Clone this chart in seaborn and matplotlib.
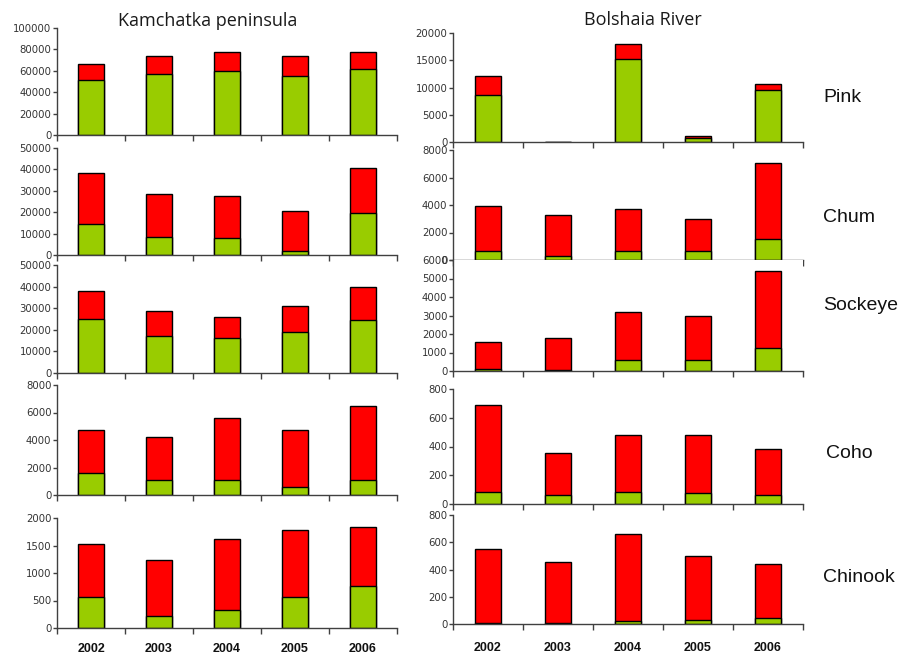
import matplotlib
matplotlib.use('Agg')
import matplotlib.pyplot as plt
import pandas as pd
import seaborn as sns

years = ['2002', '2003', '2004', '2005', '2006']
species = ['Pink', 'Chum', 'Sockeye', 'Coho', 'Chinook']

# Kamchatka peninsula: bar total (red top) and green lower part
kam_pink_total = [66000, 74000, 77500, 74000, 77500]
kam_pink_green = [51000, 57000, 60000, 55500, 62000]
kam_chum_total = [38500, 28500, 27500, 20500, 40500]
kam_chum_green = [14500, 8500, 8000, 2000, 19500]
kam_sockeye_total = [38000, 28500, 26000, 31000, 40000]
kam_sockeye_green = [25000, 17000, 16000, 19000, 24500]
kam_coho_total = [4700, 4250, 5600, 4700, 6500]
kam_coho_green = [1600, 1100, 1100, 600, 1100]
kam_chinook_total = [1520, 1240, 1610, 1780, 1830]
kam_chinook_green = [560, 210, 330, 560, 760]

# Bolshaia River
bol_pink_total = [12200, 0, 18000, 1050, 10600]
bol_pink_green = [8700, 0, 15200, 650, 9600]
bol_chum_total = [3900, 3270, 3700, 3000, 7050]
bol_chum_green = [620, 320, 620, 620, 1500]
bol_sockeye_total = [1580, 1760, 3200, 3000, 5420]
bol_sockeye_green = [130, 55, 580, 580, 1240]
bol_coho_total = [690, 355, 480, 480, 380]
bol_coho_green = [84, 65, 84, 75, 65]
bol_chinook_total = [548, 453, 662, 497, 439]
bol_chinook_green = [7, 5, 19, 27, 44]

kam_limits = [(100000, 20000), (50000, 10000), (50000, 10000), (8000, 2000), (2000, 500)]
bol_limits = [(20000, 5000), (8000, 2000), (6000, 1000), (800, 200), (800, 200)]

RED = '#FF0000'
GREEN = '#99CC00'
W, H = 909, 654


def px_axes(fig, x0, x1, ytop, ybot):
    '''add axes from pixel box (top-left origin)'''
    return fig.add_axes([x0 / W, 1 - ybot / H, (x1 - x0) / W, (ybot - ytop) / H])


def draw_panel(ax, total, green, ymax, step, year_pad=None):
    df = pd.DataFrame({'year': years, 'total': total, 'green': green})
    sns.barplot(data=df, x='year', y='total', order=years, color=RED,
                saturation=1, width=0.37, edgecolor='black', linewidth=1,
                errorbar=None, ax=ax)
    sns.barplot(data=df, x='year', y='green', order=years, color=GREEN,
                saturation=1, width=0.37, edgecolor='black', linewidth=1,
                errorbar=None, ax=ax)
    ax.set_xlim(-0.5, 4.5)
    ax.set_ylim(0, ymax)
    ax.set_yticks(range(0, ymax + 1, step))
    ax.set_xlabel('')
    ax.set_ylabel('')
    for s in ['top', 'right']:
        ax.spines[s].set_visible(False)
    for s in ['left', 'bottom']:
        ax.spines[s].set_color('#404040')
        ax.spines[s].set_linewidth(1)
    ax.tick_params(axis='y', left=True, length=3, width=1, color='#404040',
                   labelsize=7.3, labelcolor='#333333', pad=1)
    ax.set_xticks([-0.5, 0.5, 1.5, 2.5, 3.5, 4.5], minor=True)
    ax.tick_params(axis='x', which='minor', bottom=True, length=4, width=1,
                   color='#404040', direction='out')
    ax.tick_params(axis='x', which='major', length=0, labelsize=9,
                   pad=year_pad if year_pad else 10)
    if year_pad:
        ax.set_xticks(range(5))
        ax.set_xticklabels(years, fontweight='bold', family='Liberation Sans',
                           color='#111111')
    else:
        ax.set_xticklabels([])


sns.set_style('white')
plt.rcParams['font.family'] = ['DejaVu Sans']

fig = plt.figure(figsize=(W / 100, H / 100), dpi=100)

kam_rows = [(28, 135), (148, 255), (265, 373), (385, 495), (518, 628)]
bol_rows = [(33, 142), (150, 260), (260, 371), (389, 504), (515, 624)]

kam_data = [(kam_pink_total, kam_pink_green), (kam_chum_total, kam_chum_green),
            (kam_sockeye_total, kam_sockeye_green), (kam_coho_total, kam_coho_green),
            (kam_chinook_total, kam_chinook_green)]
bol_data = [(bol_pink_total, bol_pink_green), (bol_chum_total, bol_chum_green),
            (bol_sockeye_total, bol_sockeye_green), (bol_coho_total, bol_coho_green),
            (bol_chinook_total, bol_chinook_green)]

for i in range(5):
    last = (i == 4)
    ax = px_axes(fig, 57, 397, *kam_rows[i])
    draw_panel(ax, kam_data[i][0], kam_data[i][1], *kam_limits[i],
               year_pad=11 if last else None)
    ax = px_axes(fig, 453, 803, *bol_rows[i])
    draw_panel(ax, bol_data[i][0], bol_data[i][1], *bol_limits[i],
               year_pad=13 if last else None)

fig.text(208 / W, 1 - 21 / H, 'Kamchatka peninsula', ha='center', va='center',
         fontsize=13, family='Open Sans', color='#1a1a1a')
fig.text(643 / W, 1 - 20 / H, 'Bolshaia River', ha='center', va='center',
         fontsize=13, family='Open Sans', color='#1a1a1a')

species_y = [97, 217, 305, 454, 578]
species_x = [823, 823, 823, 826, 823]
for name, x, y in zip(species, species_x, species_y):
    fig.text(x / W, 1 - y / H, name, ha='left', va='center',
             fontsize=14, family='Liberation Sans', color='#111111')

fig.savefig('out.png', dpi=100)
